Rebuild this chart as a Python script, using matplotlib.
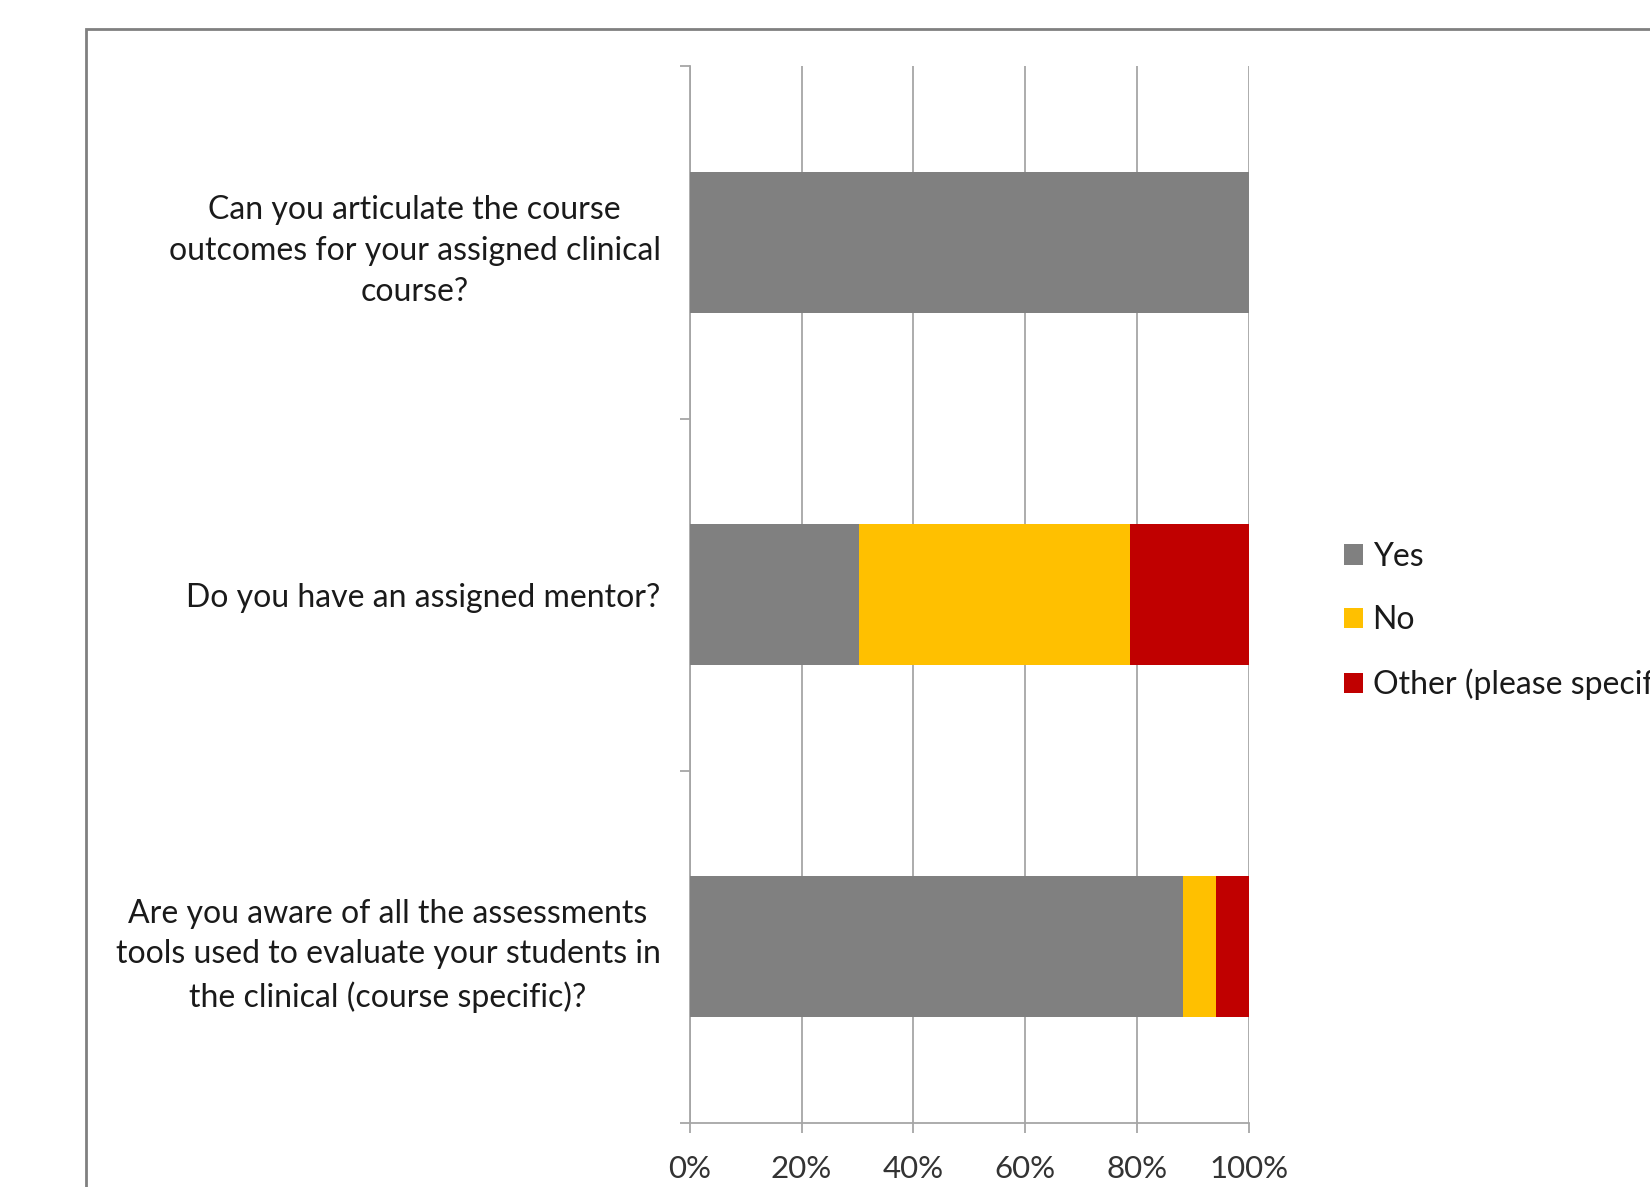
import matplotlib.pyplot as plt
import matplotlib.patches as patches
from matplotlib.ticker import FixedLocator, PercentFormatter

plt.rcParams['font.family'] = ['Lato', 'DejaVu Sans']

# survey questions, top to bottom
questions = [
    'Can you articulate the course\noutcomes for your assigned clinical\ncourse?',
    'Do you have an assigned mentor?',
    'Are you aware of all the assessments\ntools used to evaluate your students in\nthe clinical (course specific)?',
]
answers = ['Yes', 'No', 'Other (please specify)']
yes_share = [100.0, 30.3, 88.2]
no_share = [0.0, 48.5, 5.9]
other_share = [0.0, 21.2, 5.9]
colors = ['#808080', '#FFC000', '#C00000']
x_ticks = [0, 20, 40, 60, 80, 100]

fig = plt.figure(figsize=(16.5, 11.87), dpi=100)
ax = fig.add_axes([0.418, 0.054, 0.339, 0.890])

ypos = list(range(len(questions)))
left = [0.0] * len(questions)
for name, vals, col in zip(answers, [yes_share, no_share, other_share], colors):
    ax.barh(ypos, vals, left=left, height=0.4, color=col, label=name, zorder=3)
    left = [l + v for l, v in zip(left, vals)]

ax.set_xlim(0, 100)
ax.set_ylim(len(questions) - 0.5, -0.5)
ax.xaxis.set_major_locator(FixedLocator(x_ticks))
ax.xaxis.set_major_formatter(PercentFormatter(decimals=0))
ax.grid(axis='x', color='#a6a6a6', linewidth=1.3, zorder=0)

# labels at the category centres, tick marks at the boundaries
ax.set_yticks(ypos)
ax.set_yticklabels(questions, fontsize=23, color='#1a1a1a')
for lab in ax.get_yticklabels():
    lab.set_multialignment('center')
    lab.set_linespacing(1.45)
ax.tick_params(axis='y', which='major', length=0, pad=21)
ax.set_yticks([i - 0.5 for i in range(len(questions) + 1)], minor=True)
ax.tick_params(axis='y', which='minor', length=7, color='#a6a6a6', width=1.3)
ax.tick_params(axis='x', length=7, color='#a6a6a6', width=1.3, labelsize=22.5,
               labelcolor='#333333', pad=16)

for side in ['top', 'right']:
    ax.spines[side].set_visible(False)
for side in ['left', 'bottom']:
    ax.spines[side].set_color('#a6a6a6')
    ax.spines[side].set_linewidth(1.3)

leg = ax.legend(loc='center left', bbox_to_anchor=(1.118, 0.475), frameon=False,
                fontsize=23, handlelength=0.6, handleheight=0.6, handletextpad=0.3,
                labelspacing=1.05)
for t in leg.get_texts():
    t.set_color('#1a1a1a')

# outer chart frame, cut off by the image edge
fig.patches.append(patches.Rectangle((86 / 1650, -0.1), 1.0, 1 - 29 / 1187 + 0.1,
                                     transform=fig.transFigure, fill=False,
                                     edgecolor='#808080', linewidth=2))

fig.savefig('out.png', dpi=100)
